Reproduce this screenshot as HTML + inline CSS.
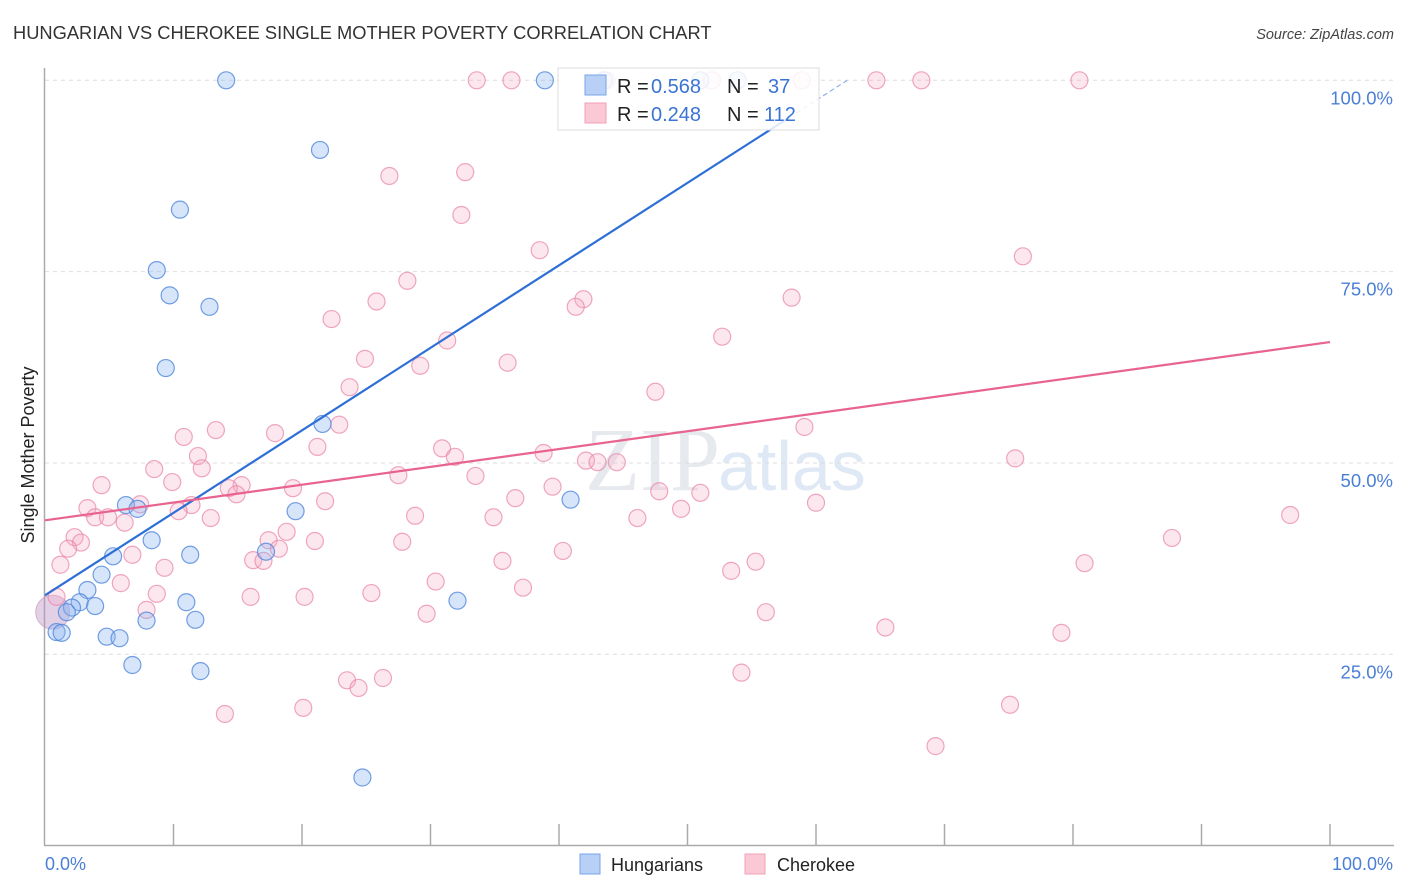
<!DOCTYPE html>
<html><head><meta charset="utf-8"><style>
body{margin:0;background:#fff;font-family:"Liberation Sans",sans-serif;}
#wrap{position:relative;width:1406px;height:892px;overflow:hidden;}
</style></head><body>
<div id="wrap">
<svg id="svg" width="1406" height="892" xmlns="http://www.w3.org/2000/svg">
<text x="13" y="39" font-size="18.3" fill="#333">HUNGARIAN VS CHEROKEE SINGLE MOTHER POVERTY CORRELATION CHART</text>
<text x="1394" y="39" font-size="14.5" fill="#444" text-anchor="end" font-style="italic">Source: ZipAtlas.com</text>
<text x="720" y="490" font-size="90" fill="#e6e9ee" text-anchor="end" font-family="Liberation Serif">ZIP</text>
<text x="718" y="490" font-size="70" fill="#dfe8f5">atlas</text>
<g id="grid"></g><g id="axes"></g><g id="pts"></g><g id="lines"></g>
<text transform="translate(34,455) rotate(-90)" font-size="18" fill="#222" text-anchor="middle">Single Mother Poverty</text>
<g>
<rect x="558" y="68" width="261" height="62" fill="rgba(255,255,255,0.85)" stroke="#ddd"/>
<rect x="585" y="75" width="21" height="20" fill="#b8d0f5" stroke="#7aa5e6"/>
<rect x="585" y="103" width="21" height="20" fill="#fbc8d6" stroke="#f0a0b8"/>
<text x="617" y="93" font-size="20" fill="#222">R =</text>
<text x="651" y="93" font-size="20" fill="#3a74d4">0.568</text>
<text x="727" y="93" font-size="20" fill="#222">N =</text>
<text x="768" y="93" font-size="20" fill="#3a74d4">37</text>
<text x="617" y="121" font-size="20" fill="#222">R =</text>
<text x="651" y="121" font-size="20" fill="#3a74d4">0.248</text>
<text x="727" y="121" font-size="20" fill="#222">N =</text>
<text x="764" y="121" font-size="20" fill="#3a74d4">112</text>
</g>
<g>
<rect x="580" y="854" width="20" height="20" fill="#b8d0f5" stroke="#7aa5e6"/>
<text x="611" y="871" font-size="18" fill="#222">Hungarians</text>
<rect x="745" y="854" width="20" height="20" fill="#fbc8d6" stroke="#f0a0b8"/>
<text x="777" y="871" font-size="18" fill="#222">Cherokee</text>
</g>
</svg>
</div>
<script>
const yTicks=[25,50,75,100];
const yTickLabels=["25.0%","50.0%","75.0%","100.0%"];
const xTicks=[0,10,20,30,40,50,60,70,80,90,100];
const hunX=[14.1,38.9,43.5,51.0,53.9,21.4,10.5,8.7,9.7,12.8,9.4,21.6,6.3,7.2,19.5,8.3,5.3,11.3,17.2,40.9,4.4,3.3,2.7,3.9,2.1,11.0,1.7,7.9,11.7,0.9,1.3,4.8,5.8,6.8,12.1,32.1,24.7];
const hunY=[100,100,100,100,100,90.9,83.1,75.2,71.9,70.4,62.4,55.1,44.5,44.0,43.7,39.9,37.8,38.0,38.4,45.2,35.4,33.4,31.8,31.3,31.1,31.8,30.5,29.4,29.5,27.9,27.8,27.3,27.1,23.6,22.8,32.0,8.9];
const cheX=[33.6,36.3,43.7,51.9,58.9,64.7,68.2,80.5,32.7,26.8,32.4,38.5,76.1,28.2,25.8,41.9,41.3,58.1,22.3,52.7,31.3,24.9,29.2,36.0,23.7,47.5,22.9,59.1,13.3,17.9,10.8,21.2,30.9,31.9,38.8,11.9,8.5,12.2,42.1,43.0,44.5,75.5,27.5,33.5,9.9,15.3,4.4,14.3,19.3,14.9,21.8,7.4,36.6,39.5,47.8,51.0,60.0,11.4,3.3,10.4,3.9,4.9,28.8,12.9,6.2,34.9,46.1,49.5,96.9,2.3,2.8,18.8,17.4,27.8,21.0,1.8,6.8,87.7,40.3,18.2,16.2,17.0,35.6,55.3,1.2,9.3,53.4,80.9,5.9,30.4,37.2,8.7,25.4,16.0,20.2,0.9,7.9,56.1,29.7,65.4,79.1,54.2,23.5,26.3,24.4,75.1,20.1,14.0,69.3];
const cheY=[100,100,100,100,100,100,100,100,88.0,87.5,82.4,77.8,77.0,73.8,71.1,71.4,70.4,71.6,68.8,66.5,66.0,63.6,62.7,63.1,59.9,59.3,55.0,54.7,54.3,53.9,53.4,52.1,51.9,50.8,51.3,50.9,49.2,49.3,50.3,50.1,50.1,50.6,48.4,48.3,47.5,47.1,47.1,46.7,46.7,45.9,45.0,44.6,45.4,46.9,46.3,46.1,44.8,44.5,44.1,43.7,42.9,42.9,43.1,42.8,42.2,42.9,42.8,44.0,43.2,40.3,39.6,41.0,39.9,39.7,39.8,38.8,38.0,40.2,38.5,38.8,37.3,37.2,37.2,37.1,36.7,36.3,35.9,36.9,34.3,34.5,33.7,32.9,33.0,32.5,32.5,32.5,30.8,30.5,30.3,28.5,27.8,22.6,21.6,21.9,20.6,18.4,18.0,17.2,13.0];
const hunTrend=[32.7,1.078];
const cheTrend=[42.5,0.233];
const NS="http://www.w3.org/2000/svg";
const X=v=>45+v*12.85, Y=v=>845.6-v*7.653;
function mk(tag,a,parent){const e=document.createElementNS(NS,tag);for(const k in a)e.setAttribute(k,a[k]);document.getElementById(parent).appendChild(e);return e;}
yTicks.forEach((t,i)=>{
 const g=mk('line',{x1:45,x2:1394,y1:Y(t),y2:Y(t),stroke:'#ddd','stroke-dasharray':'4,4'},'grid');
 
 
 const l=mk('text',{x:1393,y:Y(t)+24,'font-size':18.5,fill:'#4a7fd6','text-anchor':'end'},'grid');
 l.textContent=yTickLabels[i];
 
 
});
const ax=mk('line',{x1:44.5,x2:44.5,y1:68,y2:845.5,stroke:'#aaa','stroke-width':1.5},'axes');


const bx=mk('line',{x1:44,x2:1394,y1:845.5,y2:845.5,stroke:'#aaa','stroke-width':1.5},'axes');


xTicks.slice(1).forEach(t=>{
 const k=mk('line',{x1:X(t),x2:X(t),y1:824,y2:845,stroke:'#aaa','stroke-width':1.5},'axes');
 
 
});
const x0=mk('text',{x:45,y:870,'font-size':18,fill:'#4a7fd6'},'axes');x0.textContent='0.0%';


const x1=mk('text',{x:1393,y:870,'font-size':18,fill:'#4a7fd6','text-anchor':'end'},'axes');x1.textContent='100.0%';


const c1=mk('circle',{cx:X(0.6),cy:Y(30.5),r:17,fill:'rgba(190,150,200,0.45)',stroke:'rgba(200,140,180,0.6)'},'pts');


cheX.forEach((v,i)=>{
 const c=mk('circle',{cx:X(v),cy:Y(cheY[i]),r:8.5,fill:'rgba(248,170,195,0.28)',stroke:'rgba(232,130,165,0.7)','stroke-width':1.2},'pts');
 
 
});
hunX.forEach((v,i)=>{
 const c=mk('circle',{cx:X(v),cy:Y(hunY[i]),r:8.5,fill:'rgba(140,180,240,0.35)',stroke:'rgba(80,135,220,0.8)','stroke-width':1.2},'pts');
 
 
});
const hEnd=(100-hunTrend[0])/hunTrend[1], hSolid=hEnd-4.5;
const h1=mk('line',{x1:X(0),y1:Y(hunTrend[0]),x2:X(hSolid),y2:Y(hunTrend[0]+hunTrend[1]*hSolid),stroke:'#2d6fd6','stroke-width':2.2},'lines');


const h2=mk('line',{x1:X(hSolid),y1:Y(hunTrend[0]+hunTrend[1]*hSolid),x2:X(hEnd),y2:Y(100),stroke:'#8fb2ea','stroke-width':1.2,'stroke-dasharray':'5,3'},'lines');


const p1=mk('line',{x1:X(0),y1:Y(cheTrend[0]),x2:X(100),y2:Y(cheTrend[0]+cheTrend[1]*100),stroke:'#e8648e','stroke-width':2.2},'lines');


</script>
</body></html>
